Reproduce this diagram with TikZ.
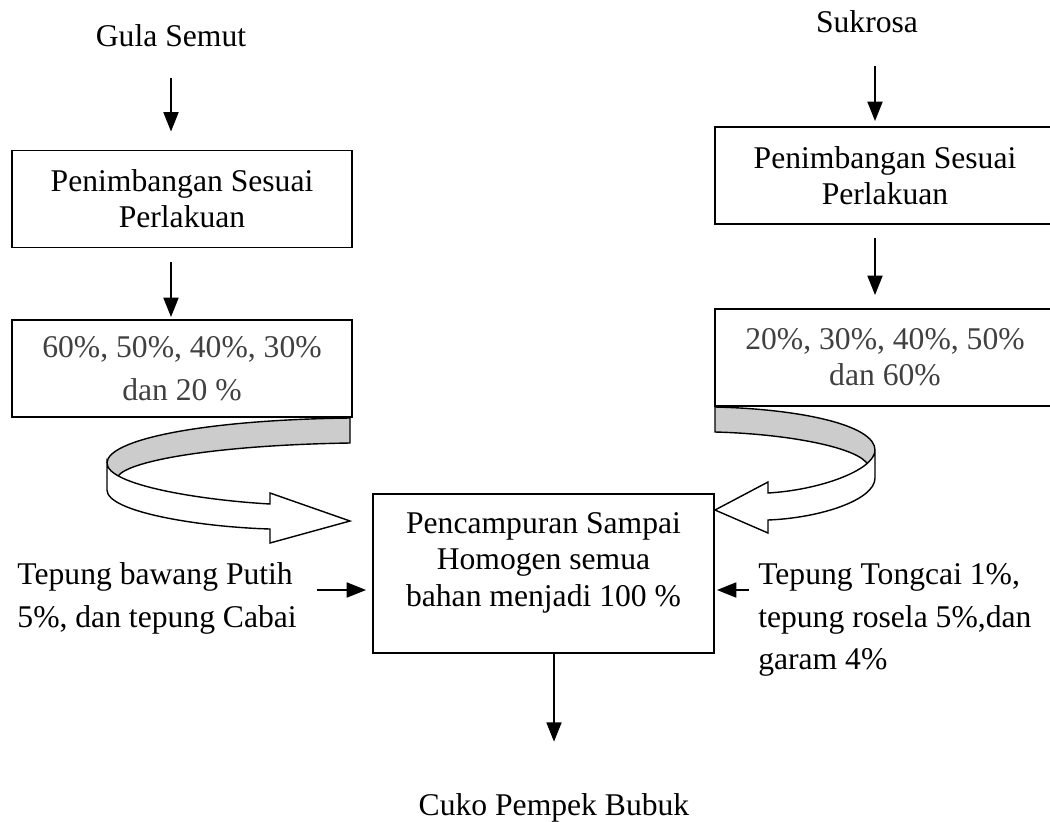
\documentclass[tikz,border=0pt]{standalone}
\usepackage{fontspec}
\setmainfont{Liberation Serif}
\usetikzlibrary{arrows.meta, positioning, calc}
\definecolor{bandgray}{HTML}{CCCCCC}
\definecolor{pcttext}{HTML}{404040}

\begin{document}
\begin{tikzpicture}[
    x=0.02cm, y=-0.02cm,   % <── pixel grid, y pointing down
    font=\fontsize{18}{20.5}\selectfont,
    proc_box/.style={rectangle, draw, line width=1.1pt, minimum width=6.8cm, minimum height=1.94cm, align=center, inner sep=0pt},
    pct_box/.style={proc_box, text=pcttext},
    txt_node/.style={inner sep=0pt},
    side_node/.style={inner sep=0pt, align=left, font=\fontsize{18}{24}\selectfont},
    flow/.style={line width=1.1pt, -{Triangle[length=11pt, width=8.5pt]}},
    curl/.style={line width=0.8pt, line join=miter}
    ]
    \path[use as bounding box, clip] (0,0) rectangle (1050,821);

    % Nodes
    \node[txt_node, anchor=base] (gula) at (171,47) {Gula Semut};
    \node[txt_node, anchor=base] (sukrosa) at (867,33) {Sukrosa};
    \node[proc_box] (wsa) at (182,199) {Penimbangan Sesuai\\Perlakuan};
    \node[pct_box, font=\fontsize{18}{24.5}\selectfont] (wpa) at (182,368.5) {60\%, 50\%, 40\%, 30\%\\dan 20 \%};
    \node[proc_box] (wsb) at (885,175.5) {Penimbangan Sesuai\\Perlakuan};
    \node[pct_box] (wpb) at (885,357.5) {20\%, 30\%, 40\%, 50\%\\dan 60\%};
    \node[proc_box, minimum width=6.82cm, inner ysep=0.36cm, text depth=16pt, font=\fontsize{18}{21}\selectfont] (mix) at (543.5,573.5) {Pencampuran Sampai\\Homogen semua\\bahan menjadi 100 \%};
    \node[side_node, left=1.5cm of mix, yshift=-0.5cm] (tbp) {Tepung bawang Putih\\5\%, dan tepung Cabai};
    \node[side_node, right=0.86cm of mix, yshift=-0.93cm] (ttc) {Tepung Tongcai 1\%,\\tepung rosela 5\%,dan\\garam 4\%};
    \node[txt_node, anchor=base] (cuko) at (554,815) {Cuko Pempek Bubuk};
    \coordinate (sx) at ([xshift=0.16cm]sukrosa.south);

    % Arrows
    \draw[flow, shorten <=0.6cm, shorten >=0.36cm] (gula.south) -- (gula.south |- wsa.north);
    \draw[flow, shorten <=0.28cm, shorten >=0.04cm] (wsa.south -| gula) -- (wpa.north -| gula);
    \draw[flow, shorten <=0.64cm, shorten >=0.1cm] (sx) -- (sx |- wsb.north);
    \draw[flow, shorten <=0.26cm, shorten >=0.26cm] (wsb.south -| sx) -- (wpb.north -| sx);
    \draw[flow, shorten <=0.4cm, shorten >=0.12cm] ([yshift=-0.33cm]mix.west -| tbp.east) -- ([yshift=-0.33cm]mix.west);
    \draw[flow, shorten <=0.18cm, shorten >=0.04cm] ([yshift=-0.33cm]mix.east -| ttc.west) -- ([yshift=-0.33cm]mix.east);
    \draw[flow, shorten >=1.02cm] (mix.south -| cuko) -- (cuko.north);

    % Curled arrows into the mixing box
    \fill[bandgray] (350,418) .. controls (200,420) and (107,440) .. (107,463) -- (107,482) -- (118,476) .. controls (130,460) and (220,445) .. (350,443) -- cycle;
    \draw[curl] (350,418) .. controls (200,420) and (107,440) .. (107,463);
    \draw[curl] (118,476) .. controls (130,460) and (220,445) .. (350,443) -- (350,418);
    \draw[curl, fill=white] (107,463) .. controls (107,485) and (200,500) .. (270,504) -- (270,493) -- (350,521) -- (270,543) -- (270,529) .. controls (200,527) and (107,512) .. (107,490) -- cycle;

    \fill[bandgray] (715,407) .. controls (800,409) and (875,425) .. (875,450) -- (875,468) -- (868,465) .. controls (860,448) and (790,434) .. (715,432) -- cycle;
    \draw[curl] (715,407) .. controls (800,409) and (875,425) .. (875,450);
    \draw[curl] (868,465) .. controls (860,448) and (790,434) .. (715,432) -- (715,407);
    \draw[curl, fill=white] (875,450) .. controls (875,470) and (820,490) .. (768,493) -- (768,482) -- (715,510) -- (768,533) -- (768,520) .. controls (820,518) and (875,500) .. (875,478) -- cycle;
\end{tikzpicture}
\end{document}
